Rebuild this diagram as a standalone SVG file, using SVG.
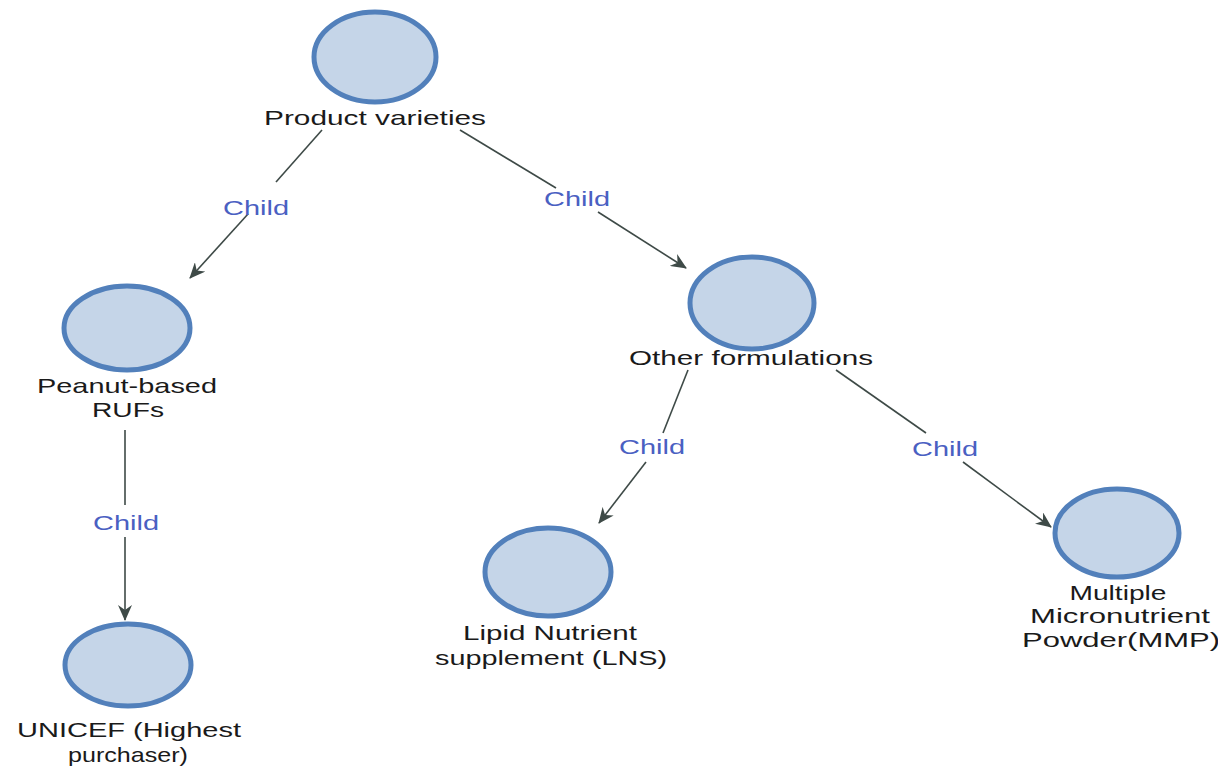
<svg xmlns="http://www.w3.org/2000/svg" width="1218" height="769" viewBox="0 0 1218 769">
  <style>
    .node ellipse { fill: #c5d5e8; stroke: #5280bb; stroke-width: 5; }
    .node text { font-family: "Liberation Sans", Arial, sans-serif; font-size: 21px; fill: #1a1a1a; text-anchor: middle; }
    .edge line { stroke: #3e4a47; stroke-width: 1.6; fill: none; }
    .edge text { font-family: "Liberation Sans", Arial, sans-serif; font-size: 21px; fill: #4a60c2; text-anchor: middle; }
  </style>
  <defs>
    <marker id="arrow" viewBox="0 0 16 14" refX="15" refY="7" markerWidth="16" markerHeight="14" markerUnits="userSpaceOnUse" orient="auto">
      <path d="M0,0 L16,7 L0,14 L5,7 Z" fill="#3e4a47"/>
    </marker>
  </defs>
  <rect width="1218" height="769" fill="#ffffff"/>

  <!-- connectors -->
  <g id="connectors">
    <g class="edge">
      <line x1="322" y1="130" x2="276" y2="182"/>
      <line x1="248" y1="214" x2="190" y2="278" marker-end="url(#arrow)"/>
      <text x="256" y="215" textLength="66" lengthAdjust="spacingAndGlyphs">Child</text>
    </g>
    <g class="edge">
      <line x1="460" y1="130" x2="556" y2="188"/>
      <line x1="598" y1="212" x2="686" y2="268" marker-end="url(#arrow)"/>
      <text x="577" y="206" textLength="66" lengthAdjust="spacingAndGlyphs">Child</text>
    </g>
    <g class="edge">
      <line x1="125" y1="430" x2="125" y2="505"/>
      <line x1="125" y1="537" x2="125" y2="620" marker-end="url(#arrow)"/>
      <text x="126" y="530" textLength="66" lengthAdjust="spacingAndGlyphs">Child</text>
    </g>
    <g class="edge">
      <line x1="688" y1="370" x2="663" y2="433"/>
      <line x1="646" y1="462" x2="599" y2="523" marker-end="url(#arrow)"/>
      <text x="652" y="454" textLength="66" lengthAdjust="spacingAndGlyphs">Child</text>
    </g>
    <g class="edge">
      <line x1="836" y1="370" x2="926" y2="433"/>
      <line x1="963" y1="462" x2="1051" y2="527" marker-end="url(#arrow)"/>
      <text x="945" y="456" textLength="66" lengthAdjust="spacingAndGlyphs">Child</text>
    </g>
  </g>

  <!-- nodes -->
  <g id="node-product-varieties" class="node">
    <ellipse cx="375" cy="57" rx="61" ry="45"/>
    <text x="375" y="125" textLength="222" lengthAdjust="spacingAndGlyphs">Product varieties</text>
  </g>
  <g id="node-peanut-rufs" class="node">
    <ellipse cx="127" cy="328" rx="63" ry="42"/>
    <text x="127" y="393" textLength="180" lengthAdjust="spacingAndGlyphs">Peanut-based</text>
    <text x="128" y="417" textLength="72" lengthAdjust="spacingAndGlyphs">RUFs</text>
  </g>
  <g id="node-other-formulations" class="node">
    <ellipse cx="752" cy="303" rx="62" ry="46"/>
    <text x="751" y="365" textLength="244" lengthAdjust="spacingAndGlyphs">Other formulations</text>
  </g>
  <g id="node-unicef" class="node">
    <ellipse cx="128" cy="665" rx="63" ry="41"/>
    <text x="129" y="737" textLength="224" lengthAdjust="spacingAndGlyphs">UNICEF (Highest</text>
    <text x="128" y="762" textLength="120" lengthAdjust="spacingAndGlyphs">purchaser)</text>
  </g>
  <g id="node-lns" class="node">
    <ellipse cx="548" cy="572" rx="63" ry="44"/>
    <text x="550" y="640" textLength="174" lengthAdjust="spacingAndGlyphs">Lipid Nutrient</text>
    <text x="551" y="665" textLength="232" lengthAdjust="spacingAndGlyphs">supplement (LNS)</text>
  </g>
  <g id="node-mmp" class="node">
    <ellipse cx="1117" cy="533" rx="62" ry="44"/>
    <text x="1118" y="600" textLength="97" lengthAdjust="spacingAndGlyphs">Multiple</text>
    <text x="1120" y="623" textLength="180" lengthAdjust="spacingAndGlyphs">Micronutrient</text>
    <text x="1121" y="647" textLength="198" lengthAdjust="spacingAndGlyphs">Powder(MMP)</text>
  </g>
</svg>
